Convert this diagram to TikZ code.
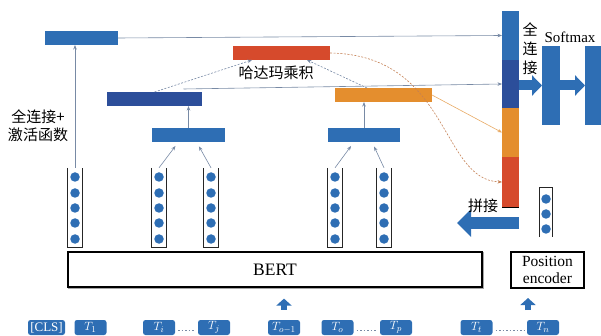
\documentclass[tikz,border=0pt]{standalone}
\usepackage{fontspec}
\setmainfont{Liberation Serif}
\newfontfamily\cjk{Noto Sans CJK SC}
\usetikzlibrary{arrows.meta}
\definecolor{cblue}{RGB}{46,110,180}
\definecolor{cdark}{RGB}{44,78,154}
\definecolor{corange}{RGB}{228,142,46}
\definecolor{cred}{RGB}{214,74,44}
\definecolor{cline}{RGB}{120,138,165}
\definecolor{ccurve}{RGB}{196,128,84}
\definecolor{clorange}{RGB}{232,170,100}
\begin{document}
\begin{tikzpicture}[x=1pt,y=-1pt,
  bar/.style={rectangle,draw=none,inner sep=0pt,outer sep=0pt},
  dotn/.style={circle,fill=cblue,inner sep=0pt,minimum size=9.5pt},
  colbox/.style={rectangle,draw=none,inner sep=0pt,minimum width=14pt,minimum height=79pt},
  bracket/.style={draw=black!85,line width=0.8pt},
  tok/.style={rectangle,rounded corners=2.5pt,fill=cblue,text=white,inner sep=0pt,minimum width=32pt,minimum height=15pt,font=\fontsize{12.5}{13}\selectfont},
  thinarr/.style={draw=cline,line width=0.6pt,-{Stealth[length=4.5pt,width=3.5pt]}},
  dasharr/.style={thinarr,dash pattern=on 2pt off 1.5pt},
  blockh/.style={draw=cblue,line width=10pt,-{Triangle[length=10pt 0 0,width=20pt 0 0]}},
  blockl/.style={draw=cblue,line width=12pt,-{Triangle[length=14pt 0 0,width=27pt 0 0]}},
  blockup/.style={draw=cblue,line width=6.5pt,-{Triangle[length=7pt 0 0,width=15pt 0 0]}},
  cjklbl/.style={inner sep=0pt,font=\cjk\fontsize{15}{18}\selectfont,align=center},
  ell/.style={draw=cline,line width=1pt,dash pattern=on 1.5pt off 2pt,shorten <=3pt,shorten >=3pt}
]
\useasboundingbox (0,0) rectangle (601,336);
\clip (0,0) rectangle (601,336);

% ---- bars
\node[bar,fill=cblue,minimum width=73pt,minimum height=14pt] (top) at (81.5,38) {};
\node[bar,fill=cred,minimum width=97pt,minimum height=14pt] (rd) at (281.5,53) {};
\node[bar,fill=cdark,minimum width=95pt,minimum height=14pt] (dk) at (154.5,99) {};
\node[bar,fill=corange,minimum width=97pt,minimum height=14pt] (or) at (383.5,95) {};
\node[bar,fill=cblue,minimum width=73pt,minimum height=14pt] (sL) at (188.5,135) {};
\node[bar,fill=cblue,minimum width=72pt,minimum height=14pt] (sR) at (364,135) {};

% concat bar
\node[bar,fill=cblue,minimum width=17pt,minimum height=49pt] (cat1) at (510.5,35.5) {};
\node[bar,fill=cdark,minimum width=17pt,minimum height=48pt] (cat2) at (510.5,84) {};
\node[bar,fill=corange,minimum width=17pt,minimum height=49pt] (cat3) at (510.5,132.5) {};
\node[bar,fill=cred,minimum width=17pt,minimum height=50pt] (cat4) at (510.5,182) {};
\draw[black,line width=0.8pt] (cat4.south west) -- (cat4.south east);

% softmax bars
\node[bar,fill=cblue,minimum width=18pt,minimum height=79pt] (sm1) at (551,85.5) {};
\node[bar,fill=cblue,minimum width=18pt,minimum height=79pt] (sm2) at (594,85.5) {};

% ---- columns of dots
\foreach \n/\x in {c1/75,c2/159,c3/211,c4/335,c5/384}{
  \node[colbox] (\n) at (\x,207.5) {};
  \draw[bracket] (\n.north west) -- (\n.south west) -- (\n.south east) -- (\n.north east);
  \foreach \y in {177,193,208,223,239}
    \node[dotn] (\n d\y) at (\x,\y) {};
}
% position dots
\node[colbox,minimum width=13pt,minimum height=49pt] (pcol) at (546,212.5) {};
\draw[bracket] (pcol.south west) -- (pcol.north west) -- (pcol.north east) -- (pcol.south east);
\foreach \y in {199,214,229}
  \node[dotn] (pd\y) at (546,\y) {};

% ---- boxes
\node[draw=black,line width=1.2pt,minimum width=414pt,minimum height=35pt,inner sep=0pt,
      font=\fontsize{17.5}{18}\selectfont] (bert) at (275,269.5) {BERT};
\draw[black!35,line width=1pt] ([shift={(1.3pt,-1pt)}]bert.north east) -- ([shift={(1.3pt,-1.3pt)}]bert.south east) -- ([shift={(1pt,-1.3pt)}]bert.south west);
\node[draw=black,line width=1.2pt,minimum width=73pt,minimum height=36pt,inner sep=0pt,align=center,
      font=\fontsize{15.5}{16.5}\selectfont] (pos) at (547.5,270) {Position\\encoder};

% ---- tokens
\node[tok,minimum width=37pt,font=\fontsize{13}{13}\selectfont] (tcls) at (46.5,327.5) {[CLS]};
\node[tok] (t1) at (90.5,327.5) {$T_1$};
\node[tok] (ti) at (159,327.5) {$T_i$};
\node[tok] (tj) at (214,327.5) {$T_j$};
\node[tok] (tom) at (284,327.5) {$T_{o-1}$};
\node[tok] (to) at (337.5,327.5) {$T_o$};
\node[tok] (tp) at (396,327.5) {$T_p$};
\node[tok] (tt) at (476.5,327.5) {$T_t$};
\node[tok] (tn) at (543,327.5) {$T_n$};
\draw[ell] ([yshift=-3pt]ti.east) -- ([yshift=-3pt]tj.west);
\draw[ell] ([yshift=-3pt]to.east) -- ([yshift=-3pt]tp.west);
\draw[ell] ([yshift=-3pt]tt.east) -- ([yshift=-3pt]tn.west);

% ---- up arrows
\draw[blockup,shorten <=10pt,shorten >=11pt] (tom.north) -- (bert.south -| tom.north);
\coordinate (pab) at (528,310);
\coordinate (pat) at (528,298);
\draw[blockup] (pab) -- (pat);

% ---- thin connectors
\draw[thinarr] (top.east) -- (cat1.west);
\draw[thinarr] (c1.north) -- (top.south -| c1.north);
\draw[thinarr,shorten >=5pt] (c2.north) -- ([xshift=-10pt]sL.south);
\draw[thinarr,shorten >=5pt] (c3.north) -- ([xshift=8pt]sL.south);
\draw[thinarr,shorten >=5pt] (c4.north) -- ([xshift=-10pt]sR.south);
\draw[thinarr,shorten >=5pt] (c5.north) -- ([xshift=8pt]sR.south);
\draw[thinarr] (sL.north) -- (sL.north |- dk.south);
\draw[thinarr] (sR.north) -- (sR.north |- or.south);
\draw[dasharr] (dk.north) -- ([xshift=-29.5pt]rd.south);
\draw[dasharr] ([xshift=-16.5pt]or.north) -- ([xshift=25.5pt]rd.south);
\draw[thinarr] ([xshift=29pt,yshift=3pt]dk.north) -- (cat2.west);
\draw[thinarr,draw=clorange] (or.east) -- (cat3.west);
\draw[dasharr,draw=ccurve] (rd.east) .. controls (450,55) and (440,180) .. (cat4.west);

% ---- block arrows
\draw[blockh] (cat2.east |- sm1.west) -- (sm1.west);
\draw[blockh] (sm1.east) -- (sm2.west);
\coordinate (pjend) at (457,223);
\draw[blockl] (cat4.east |- pjend) -- (pjend);

% ---- labels
\node[cjklbl] (lblfc) at (38,126) {全连接+\\激活函数};
\node[cjklbl] (lblhd) at (276,73) {哈达玛乘积};
\node[cjklbl,font=\cjk\fontsize{15}{19}\selectfont] (lblfc2) at (530,49) {全\\连\\接};
\node[cjklbl] (lblpj) at (483,206) {拼接};
\node[inner sep=0pt,font=\fontsize{15}{16}\selectfont] (lblsm) at (570,37) {Softmax};
\end{tikzpicture}
\end{document}
